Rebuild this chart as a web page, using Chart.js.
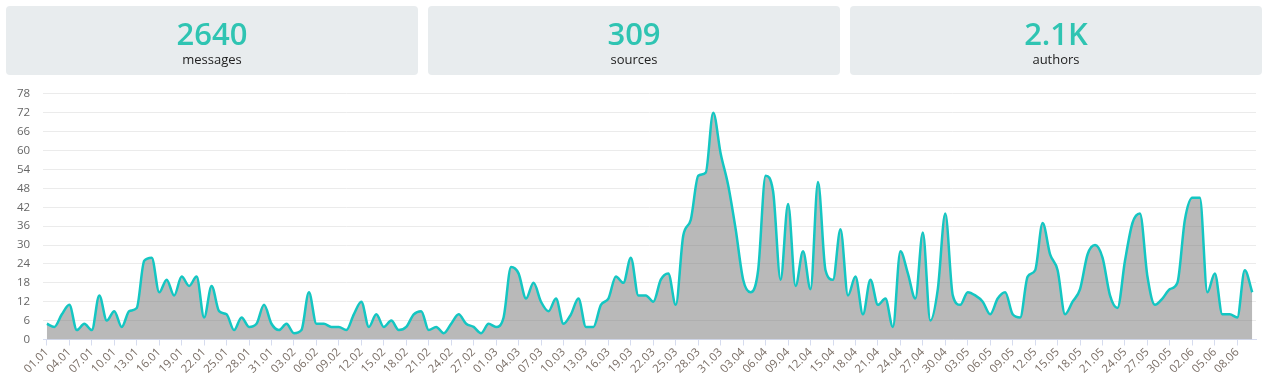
<!DOCTYPE html>
<html>
<head>
<meta charset="utf-8">
<script src="https://cdn.jsdelivr.net/npm/chart.js@4"></script>
<style>
    body {
        margin: 0;
        width: 1280px;
        height: 384px;
        background: #fff;
        font-family: 'Open Sans', sans-serif;
        overflow: hidden;
    }
    .cards {
        position: absolute;
        left: 6px;
        top: 6px;
        display: flex;
        gap: 10px;
        z-index: 1;
    }
    .card {
        width: 412px;
        height: 69px;
        background: #e8ecee;
        border-radius: 4px;
        text-align: center;
    }
    .card .num {
        color: #2fc4b2;
        font-size: 31px;
        font-weight: 600;
        line-height: 36px;
        margin-top: 9px;
    }
    .card .label {
        color: #222;
        font-size: 13px;
        line-height: 16px;
    }
    #wrap {
        position: absolute;
        left: 0;
        top: 74px;
        width: 1262px;
        height: 306px;
    }
</style>
</head>
<body>
<div class="cards">
    <div class="card"><div class="num">2640</div><div class="label">messages</div></div>
    <div class="card"><div class="num">309</div><div class="label">sources</div></div>
    <div class="card"><div class="num">2.1K</div><div class="label">authors</div></div>
</div>
<div id="wrap"><canvas id="msgChart"></canvas></div>

<script>
// days, 01.01 - 10.06
const days = [
    '01.01','02.01','03.01','04.01','05.01','06.01','07.01','08.01','09.01','10.01','11.01','12.01','13.01','14.01','15.01','16.01',
    '17.01','18.01','19.01','20.01','21.01','22.01','23.01','24.01','25.01','26.01','27.01','28.01','29.01','30.01','31.01',
    '01.02','02.02','03.02','04.02','05.02','06.02','07.02','08.02','09.02','10.02','11.02','12.02','13.02','14.02','15.02',
    '16.02','17.02','18.02','19.02','20.02','21.02','22.02','23.02','24.02','25.02','26.02','27.02','28.02','29.02',
    '01.03','02.03','03.03','04.03','05.03','06.03','07.03','08.03','09.03','10.03','11.03','12.03','13.03','14.03','15.03','16.03',
    '17.03','18.03','19.03','20.03','21.03','22.03','23.03','24.03','25.03','26.03','27.03','28.03','29.03','30.03','31.03',
    '01.04','02.04','03.04','04.04','05.04','06.04','07.04','08.04','09.04','10.04','11.04','12.04','13.04','14.04','15.04',
    '16.04','17.04','18.04','19.04','20.04','21.04','22.04','23.04','24.04','25.04','26.04','27.04','28.04','29.04','30.04',
    '01.05','02.05','03.05','04.05','05.05','06.05','07.05','08.05','09.05','10.05','11.05','12.05','13.05','14.05','15.05','16.05',
    '17.05','18.05','19.05','20.05','21.05','22.05','23.05','24.05','25.05','26.05','27.05','28.05','29.05','30.05','31.05',
    '01.06','02.06','03.06','04.06','05.06','06.06','07.06','08.06','09.06','10.06'
];

// messages per day
const messages = [
    5, 4, 8, 11, 3, 5, 3, 14, 6, 9,
    4, 9, 10, 25, 26, 15, 19, 14, 20, 17,
    20, 7, 17, 9, 8, 3, 7, 4, 5, 11,
    5, 3, 5, 2, 3, 15, 5, 5, 4, 4,
    3, 8, 12, 4, 8, 4, 6, 3, 4, 8,
    9, 3, 4, 2, 5, 8, 5, 4, 2, 5,
    4, 7, 23, 21, 13, 18, 12, 9, 13, 5,
    8, 13, 4, 4, 11, 13, 20, 18, 26, 14,
    14, 12, 19, 21, 11, 33, 38, 52, 53, 72,
    59, 49, 35, 19, 15, 22, 52, 47, 19, 43,
    17, 28, 16, 50, 22, 19, 35, 14, 20, 8,
    19, 11, 13, 4, 28, 21, 13, 34, 6, 16,
    40, 14, 11, 15, 14, 12, 8, 13, 15, 8,
    7, 20, 22, 37, 27, 22, 8, 12, 16, 27,
    30, 26, 14, 10, 25, 37, 40, 20, 11, 13,
    16, 18, 38, 45, 45, 15, 21, 8, 8, 7,
    22, 15
];

const yMax = 78;
const yStep = 6;
const labelEvery = 3;

const ctx = document.getElementById('msgChart').getContext('2d');

new Chart(ctx, {
    type: 'line',
    data: {
        labels: days,
        datasets: [{
            label: 'messages',
            data: messages,
            borderColor: '#14c6c2',
            backgroundColor: 'rgba(120, 120, 120, 0.52)',
            borderWidth: 2.5,
            fill: true,
            pointRadius: 0,
            cubicInterpolationMode: 'monotone'
        }]
    },
    options: {
        responsive: true,
        maintainAspectRatio: false,
        animation: false,
        layout: {
            padding: { top: 0, right: 6, left: 4, bottom: 4 }
        },
        scales: {
            x: {
                offset: true,
                grid: {
                    drawOnChartArea: false,
                    color: '#d6dcef',
                    tickLength: 6
                },
                border: { color: '#d6dcef' },
                ticks: {
                    autoSkip: false,
                    minRotation: 45,
                    maxRotation: 45,
                    padding: 0,
                    color: '#7a6e66',
                    font: { family: 'Open Sans', size: 11.5 },
                    callback: function (value, index) {
                        return index % labelEvery === 0 ? this.getLabelForValue(value) : null;
                    }
                }
            },
            y: {
                min: 0,
                max: yMax,
                grid: {
                    color: '#ebebeb',
                    drawTicks: false
                },
                border: { display: false },
                ticks: {
                    stepSize: yStep,
                    padding: 13,
                    color: '#666',
                    font: { family: 'Open Sans', size: 11.5 }
                }
            }
        },
        plugins: {
            legend: { display: false },
            tooltip: { enabled: false }
        }
    }
});
</script>
</body>
</html>
